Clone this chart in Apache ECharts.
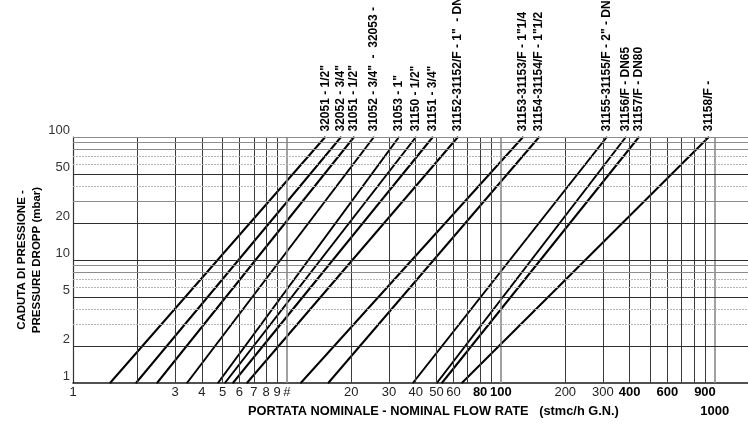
<!DOCTYPE html>
<html>
<head>
<meta charset="utf-8">
<script src="https://cdn.jsdelivr.net/npm/echarts@6/dist/echarts.min.js"></script>
<style>
  html, body { margin: 0; padding: 0; background: #fff; }
  #chart { width: 748px; height: 428px; }
</style>
</head>
<body>
<div id="chart"></div>
<script>
// Pressure-drop curves: flow rate (stmc/h) at 1 mbar and at 100 mbar for each model
const seriesLabels = [
  '32051 - 1/2"',
  '32052 - 3/4"',
  '31051 - 1/2"',
  '31052 - 3/4"  -  32053 -',
  '31053 - 1"',
  '31150 - 1/2"',
  '31151 - 3/4"',
  '31152-31152/F - 1"  - DN25',
  '31153-31153/F - 1"1/4',
  '31154-31154/F - 1"1/2',
  '31155-31155/F - 2" - DN50',
  '31156/F - DN65',
  '31157/F - DN80',
  '31158/F -'
];
const flowAt1mbar   = [1.49, 1.97, 2.47, 3.41, 4.76, 5.13, 5.59, 6.50, 11.6, 15.6, 38.8, 50.2, 53.0, 65.7];
const flowAt100mbar = [15.1, 17.9, 20.6, 25.5, 33.4, 40.1, 48.1, 63.0, 127, 151, 313, 384, 442, 938];
const pressureRange = [1, 100];

// Axis tick labels (first row) and the lowered second-row label
const xTickValues = [1, 3, 4, 5, 6, 7, 8, 9, 10, 20, 30, 40, 50, 60, 80, 100, 200, 300, 400, 600, 900];
const xTickText   = ['1', '3', '4', '5', '6', '7', '8', '9', '#', '20', '30', '40', '50', '60', '80', '100', '200', '300', '400', '600', '900'];
const xTickBold   = [80, 100, 400, 600, 900];
const xTickLowered = [1000];
const yTickValues = [1, 2, 5, 10, 20, 50, 100];

// Grid lines
const xGridDecades = [10, 100, 1000];
const xGridOther = [2, 3, 4, 5, 6, 7, 8, 9, 20, 30, 40, 50, 60, 70, 80, 90, 200, 300, 400, 500, 600, 700, 800, 900];
const yGridDark   = [2, 5, 10, 20, 50];
const yGridGray   = [8, 9, 30, 80, 90, 100];
const yGridDotted = [3, 4, 6, 7, 40, 60, 70];

const FONT = '"Liberation Sans", Arial, Helvetica, sans-serif';
const X_MIN = 1, X_MAX = 1430;

const chart = echarts.init(document.getElementById('chart'), null, { renderer: 'canvas' });

function vLine(v, color, width, type) {
  return { xAxis: v, lineStyle: { color: color, width: width, type: type } };
}
function hLine(v, color, width, type) {
  return { yAxis: v, lineStyle: { color: color, width: width, type: type } };
}

const gridMarks = []
  .concat(xGridOther.map(v => vLine(v, '#3a3a3a', 1, 'solid')))
  .concat(xGridDecades.map(v => vLine(v, '#8a8a8a', 1.6, 'solid')))
  .concat(yGridDotted.map(v => hLine(v, '#b5b5b5', 1, [2, 1])))
  .concat(yGridGray.map(v => hLine(v, '#8c8c8c', 1, 'solid')))
  .concat(yGridDark.map(v => hLine(v, '#2e2e2e', 1.2, 'solid')));

const gridSeries = {
  type: 'line',
  name: 'grid',
  data: [],
  silent: true,
  z: 1,
  markLine: {
    silent: true,
    symbol: ['none', 'none'],
    label: { show: false },
    animation: false,
    data: gridMarks
  }
};

const curveSeries = seriesLabels.map((name, i) => ({
  type: 'line',
  name: name,
  z: 3,
  symbol: 'circle',
  symbolSize: 1,
  itemStyle: { color: '#000' },
  lineStyle: { color: '#000', width: 2 },
  clip: false,
  silent: true,
  label: {
    show: false,
    position: 'top',
    distance: 5,
    rotate: 90,
    align: 'left',
    verticalAlign: 'middle',
    formatter: () => name,
    fontFamily: FONT,
    fontWeight: 'bold',
    fontSize: 12,
    color: '#000'
  },
  data: [
    [flowAt1mbar[i], pressureRange[0]],
    { value: [flowAt100mbar[i], pressureRange[1]], label: { show: true } }
  ]
}));

function xLabel(v) {
  const idx = xTickValues.findIndex(t => Math.abs(t - v) < t * 1e-6);
  if (idx < 0) return '';
  const txt = xTickText[idx];
  return xTickBold.indexOf(xTickValues[idx]) >= 0 ? '{b|' + txt + '}' : txt;
}

chart.setOption({
  animation: false,
  backgroundColor: '#fff',
  textStyle: { fontFamily: FONT },
  grid: { left: 73, right: 0, top: 137, bottom: 45, containLabel: false },
  xAxis: [{
    type: 'log',
    logBase: 10,
    min: X_MIN,
    max: X_MAX,
    axisLine: { show: true, onZero: false, lineStyle: { color: '#1a1a1a', width: 1.5 } },
    axisTick: { show: false, customValues: xTickValues },
    splitLine: { show: false },
    axisLabel: {
      customValues: xTickValues,
      hideOverlap: false,
      margin: 3,
      fontFamily: FONT,
      fontSize: 13,
      color: '#222',
      formatter: xLabel,
      rich: { b: { fontFamily: FONT, fontWeight: 'bold', fontSize: 13, color: '#000' } }
    }
  }, {
    // second label row under the main axis
    type: 'log',
    logBase: 10,
    min: X_MIN,
    max: X_MAX,
    position: 'bottom',
    offset: 19,
    axisLine: { show: false },
    axisTick: { show: false, customValues: xTickLowered },
    splitLine: { show: false },
    axisLabel: {
      customValues: xTickLowered,
      margin: 3,
      fontFamily: FONT,
      fontSize: 13,
      fontWeight: 'bold',
      color: '#000',
      formatter: v => String(Math.round(v))
    }
  }],
  yAxis: {
    type: 'log',
    logBase: 10,
    min: 1,
    max: 100,
    axisLine: { show: true, onZero: false, lineStyle: { color: '#333', width: 1.2 } },
    axisTick: { show: false, customValues: yTickValues },
    splitLine: { show: false },
    axisLabel: {
      customValues: yTickValues,
      hideOverlap: false,
      margin: 3,
      fontFamily: FONT,
      fontSize: 13,
      color: '#333',
      verticalAlign: 'bottom'
    },
    name: 'CADUTA DI PRESSIONE -\nPRESSURE DROPP (mbar)',
    nameLocation: 'middle',
    nameRotate: 90,
    nameGap: 29,
    nameMoveOverlap: false,
    nameTextStyle: { fontFamily: FONT, fontWeight: 'bold', fontSize: 11.5, lineHeight: 15, color: '#000' }
  },
  graphic: [{
    type: 'text',
    left: 248,
    top: 405,
    silent: true,
    style: {
      text: 'PORTATA NOMINALE - NOMINAL FLOW RATE   (stmc/h G.N.)',
      font: 'bold 12.8px ' + FONT,
      fill: '#000'
    }
  }],
  series: [gridSeries].concat(curveSeries)
});
</script>
</body>
</html>
